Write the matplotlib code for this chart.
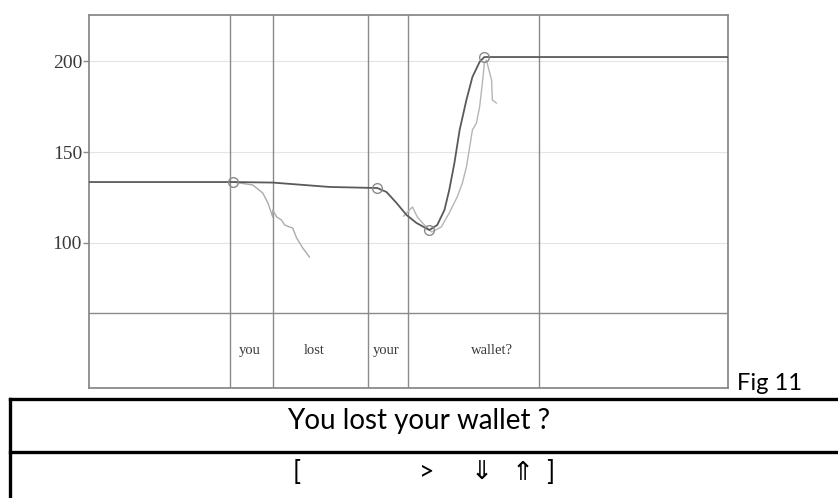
import matplotlib
matplotlib.use("Agg")
import matplotlib.pyplot as plt
from matplotlib.lines import Line2D

# temps en ms, f0 en Hz
stylise_t = [0, 360, 460, 602, 722, 745, 770, 795, 820, 852, 872, 890, 902,
             915, 928, 945, 960, 978, 990, 1600]
stylise_f0 = [133.5, 133.5, 133.2, 130.8, 130.2, 128.0, 122.0, 115.4, 111.0,
              107.1, 109.9, 118.1, 129.1, 144.0, 162.1, 178.6, 191.2, 199.5,
              202.2, 202.2]

cibles_t = [360, 722, 852, 990]
cibles_f0 = [133.5, 130.2, 107.1, 202.2]

brut1_t = [360, 410, 435, 448, 460, 460, 470, 482, 490, 502, 510, 520, 535, 552]
brut1_f0 = [133.5, 131.9, 127.5, 122.0, 114.3, 118.1, 114.3, 112.6, 109.9,
            108.8, 108.2, 102.7, 97.3, 92.3]

brut2_t = [788, 810, 822, 835, 858, 882, 902, 922, 935, 945, 952, 960, 970,
           978, 985, 990, 995, 1008, 1010, 1020]
brut2_f0 = [114.8, 119.8, 114.3, 111.0, 106.0, 108.8, 116.5, 125.3, 133.0,
            141.8, 151.1, 162.1, 165.9, 174.7, 187.9, 198.9, 200.5, 189.6,
            178.6, 176.9]

frontieres = [352, 460, 698, 798, 1128]
mots = ["you", "lost", "your", "wallet?"]
mots_t = [402, 565, 745, 1008]
yticks = [100, 150, 200]

fig = plt.figure(figsize=(8.38, 4.98), dpi=100)
ax = fig.add_axes([89 / 838, 110 / 498, 639 / 838, 373 / 498])

ax.set_xlim(0, 1600)
ax.set_ylim(20.3, 225.3)

for y in yticks:
    ax.axhline(y, color="#e4e4e4", lw=0.8, zorder=0)
for x in frontieres:
    ax.axvline(x, color="#8a8a8a", lw=1.0, zorder=1)
ax.axhline(61.5, color="#8a8a8a", lw=1.0, zorder=1)

ax.plot(brut1_t, brut1_f0, color="#ababab", lw=1.0, zorder=2)
ax.plot(brut2_t, brut2_f0, color="#b5b5b5", lw=1.0, zorder=2)
ax.plot(stylise_t, stylise_f0, color="#5a5a5a", lw=1.3, zorder=3)
ax.plot(cibles_t, cibles_f0, "o", ms=7, mfc="none", mec="#8a8a8a", mew=1.0, zorder=4)

for m, t in zip(mots, mots_t):
    ax.text(t, 40.7, m, ha="center", va="center", fontsize=10.5,
            family="Liberation Serif", color="#3a3a3a")

ax.set_yticks(yticks)
ax.set_yticklabels([str(v) for v in yticks], family="Liberation Serif",
                   fontsize=14, color="#3a3a3a")
ax.set_xticks([])
ax.tick_params(axis="y", length=4, width=1, color="#8a8a8a", pad=1)
for s in ax.spines.values():
    s.set_color("#8a8a8a")
    s.set_linewidth(1.3)

# légende sous la figure
fig.text(737 / 838, (498 - 383) / 498, "Fig 11", ha="left", va="center",
         fontsize=17, family="Lato", color="black")

lw_tab = 2.4
fig.add_artist(Line2D([10 / 838, 1], [99 / 498, 99 / 498], color="black", lw=lw_tab))
fig.add_artist(Line2D([10 / 838, 1], [46 / 498, 46 / 498], color="black", lw=lw_tab))
fig.add_artist(Line2D([10 / 838, 10 / 838], [0, 99 / 498], color="black", lw=lw_tab))

fig.text(0.5, (498 - 421) / 498, "You lost your wallet ?", ha="center", va="center",
         fontsize=20, family=["Lato", "DejaVu Sans"], color="black")

symboles = ["[", ">", "\u21d3", "\u21d1", "]"]
symboles_x = [297, 427, 482, 523, 550]
for s, x in zip(symboles, symboles_x):
    fig.text(x / 838, (498 - 472) / 498, s, ha="center", va="center",
             fontsize=19, family=["Lato", "DejaVu Sans"], color="black")

fig.savefig("out.png", dpi=100)
